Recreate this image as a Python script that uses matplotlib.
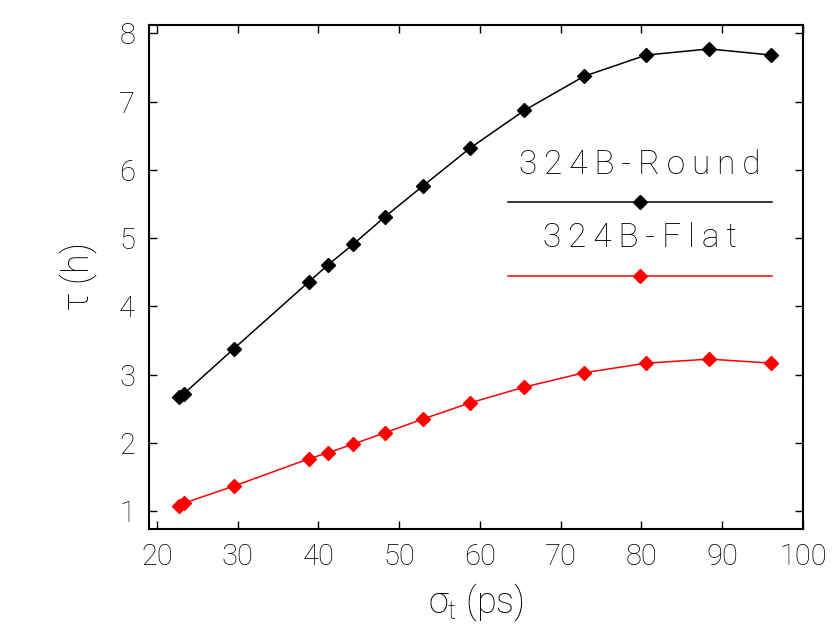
import numpy as np
import matplotlib
matplotlib.use('Agg')
import matplotlib.pyplot as plt

plt.rcParams['font.family'] = ['Roboto', 'DejaVu Sans']
plt.rcParams['font.weight'] = 'light'
plt.rcParams['axes.labelweight'] = 'light'
plt.rcParams['mathtext.fontset'] = 'custom'
plt.rcParams['mathtext.rm'] = 'Roboto:light'
plt.rcParams['mathtext.it'] = 'Roboto:light'

# bunch length sigma_t (ps)
sigma_t = [22.7, 23.3, 29.5, 38.8, 41.2, 44.3, 48.2, 53.0, 58.8, 65.5, 72.9, 80.6, 88.4, 96.1]
tau_round = [2.67, 2.72, 3.38, 4.36, 4.61, 4.91, 5.31, 5.77, 6.32, 6.87, 7.37, 7.68, 7.77, 7.68]
tau_flat = [1.08, 1.12, 1.37, 1.77, 1.86, 1.985, 2.15, 2.355, 2.59, 2.82, 3.03, 3.17, 3.23, 3.17]
names = ['324B-Round', '324B-Flat']
colors = ['black', 'red']

fig = plt.figure(figsize=(8.32, 6.33), dpi=100)
ax = fig.add_axes([0.179, 0.164, 0.786, 0.7965])

for ys, c in zip([tau_round, tau_flat], colors):
    ax.plot(sigma_t, ys, color=c, lw=1.1, marker='D', ms=7)

# legend drawn by hand like the original, letters spread out a bit
for i, (n, c) in enumerate(zip(names, colors)):
    ty = 0.7226 - i * 0.1448
    ly = 0.6496 - i * 0.1484
    ax.text(0.751, ty, '\u2009'.join(n), transform=ax.transAxes,
            ha='center', va='center', fontsize=24)
    ax.plot([0.549, 0.953], [ly, ly], transform=ax.transAxes, color=c, lw=1.1)
    ax.plot([0.751], [ly], transform=ax.transAxes, color=c, marker='D', ms=7)

ax.set_xlim(19, 100)
ax.set_ylim(0.74, 8.12)
ax.set_xticks(np.arange(20, 101, 10))
ax.set_yticks(np.arange(1, 9, 1))
ax.tick_params(direction='in', top=True, right=True, length=6, width=1, labelsize=21, pad=10)
for s in ax.spines.values():
    s.set_linewidth(1.5)

ax.set_xlabel(r'$\sigma_t$ (ps)', fontsize=26, labelpad=8)
ax.set_ylabel(r'$\tau$ (h)', fontsize=26, labelpad=14)

fig.savefig('out.png', dpi=100)
